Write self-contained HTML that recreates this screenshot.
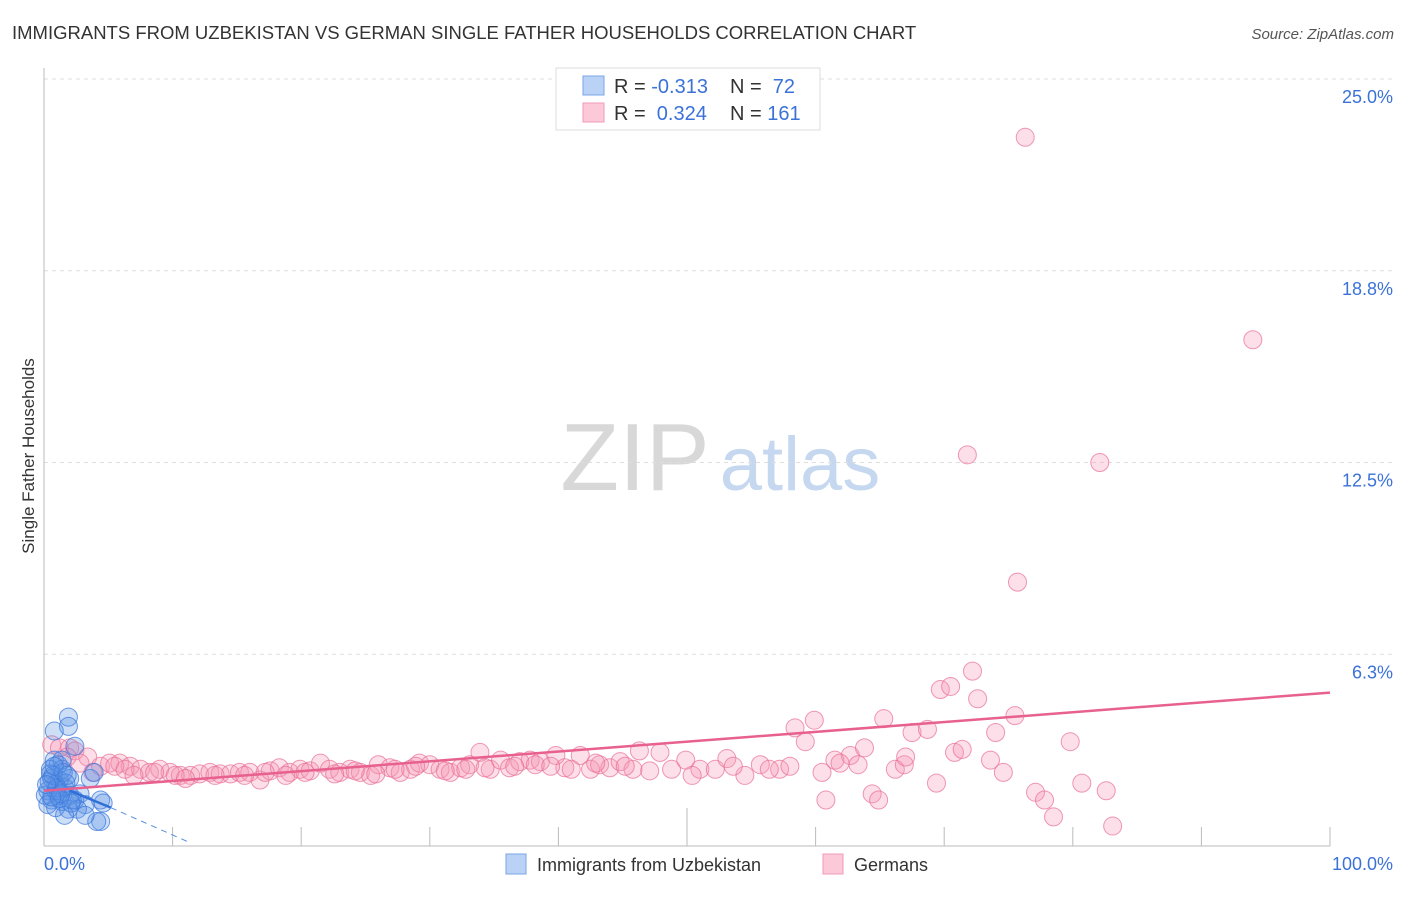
<!DOCTYPE html>
<html><head><meta charset="utf-8"><style>
body{margin:0;background:#fff;font-family:"Liberation Sans",sans-serif;}
svg text{font-family:"Liberation Sans",sans-serif;}
</style></head><body>
<svg id="chart" width="1406" height="892" xmlns="http://www.w3.org/2000/svg">
<text x="12" y="39" font-size="18.5" fill="#333">IMMIGRANTS FROM UZBEKISTAN VS GERMAN SINGLE FATHER HOUSEHOLDS CORRELATION CHART</text>
<text x="1394" y="39" font-size="15" fill="#555" text-anchor="end" font-style="italic">Source: ZipAtlas.com</text>
<g>
<text x="635" y="490" font-size="96" fill="#d8d8d8" font-family="Liberation Serif" text-anchor="middle">ZIP</text>
<text x="800" y="490" font-size="76" fill="#c5d8f0" text-anchor="middle">atlas</text>
</g>
<g id="grid"></g>
<g id="axes"></g>
<g id="pts"></g>
<g id="trends"></g>
<text transform="translate(34,456) rotate(-90)" font-size="17" fill="#333" text-anchor="middle">Single Father Households</text>
<g>
<rect x="556" y="68" width="264" height="62" fill="#fff" stroke="#ddd"/>
<rect x="583" y="76" width="21" height="19" fill="#b9d2f5" stroke="#7aa5e6"/>
<rect x="583" y="103" width="21" height="19" fill="#fcc9d8" stroke="#f09ab5"/>
<text x="614" y="93" font-size="20" fill="#333">R = <tspan fill="#3b72d8">-0.313</tspan></text>
<text x="730" y="93" font-size="20" fill="#333">N = <tspan fill="#3b72d8">&#160;72</tspan></text>
<text x="614" y="120" font-size="20" fill="#333">R = <tspan fill="#3b72d8">&#160;0.324</tspan></text>
<text x="730" y="120" font-size="20" fill="#333">N = <tspan fill="#3b72d8">161</tspan></text>
</g>
<g>
<rect x="506" y="854" width="20" height="20" fill="#b9d2f5" stroke="#7aa5e6"/>
<text x="537" y="871" font-size="18" fill="#333">Immigrants from Uzbekistan</text>
<rect x="823" y="854" width="20" height="20" fill="#fcc9d8" stroke="#f09ab5"/>
<text x="854" y="871" font-size="18" fill="#333">Germans</text>
</g>
</svg>
<script>
const yTicks=[6.25,12.5,18.75,25];
const yTickLabels=["6.3%","12.5%","18.8%","25.0%"];
const xTickVals=[10,20,30,40,50,60,70,80,90,100];
const blueX=[1.9,1.9,0.8,2.4,0.8,1.1,0.5,1.4,0.6,1.2,2.0,0.9,1.6,0.3,1.1,2.0,2.8,0.6,1.4,2.4,3.2,0.9,1.9,2.6,3.6,3.9,4.4,4.6,4.4,4.1,3.2,1.6,0.5,0.9,1.4,0.1,0.3,2.2,1.2,1.7,0.4,0.7,1.0,1.3,1.5,0.2,0.6,0.8,1.8,2.1];
const blueY=[4.2,3.9,3.75,3.25,2.8,2.65,2.5,2.5,2.2,2.15,2.2,2.0,1.9,1.8,1.65,1.65,1.7,1.5,1.45,1.5,1.35,1.25,1.2,1.2,2.2,2.4,1.5,1.4,0.8,0.8,1.0,1.0,2.35,1.8,2.8,1.65,1.35,1.5,1.55,2.05,2.1,2.3,1.9,1.7,2.4,2.0,1.6,2.6,2.3,1.4];
const pinkX=[0.6,1.2,2.0,2.4,3.4,4.4,5.1,5.9,6.7,7.5,8.2,9.0,9.8,10.6,11.4,12.1,12.9,13.7,14.5,15.2,16.0,16.8,17.6,18.3,19.1,19.9,20.7,21.5,22.2,23.0,23.8,24.6,25.4,26.0,26.9,27.7,28.5,29.2,30.0,30.8,31.6,32.4,33.1,33.9,34.7,35.5,36.2,37.0,37.8,38.6,39.8,40.5,41.7,42.5,43.2,44.0,44.8,45.8,46.3,47.9,48.8,49.9,51.0,52.2,53.1,54.5,55.7,57.2,58.4,59.2,59.9,60.5,60.8,61.5,62.7,63.3,63.8,64.4,64.9,65.3,66.2,66.9,67.5,68.7,69.4,69.7,70.5,70.8,71.4,71.8,72.2,72.6,73.6,74.0,74.6,75.5,75.7,76.3,77.1,77.8,78.5,79.8,80.7,82.1,82.6,83.1,94.0,1.8,2.8,3.8,5.5,6.3,7.0,8.6,10.2,11.0,13.3,15.6,17.2,18.8,20.3,22.6,24.2,25.8,27.3,28.9,31.2,32.8,34.3,36.6,38.2,39.4,41.0,42.9,45.2,47.1,50.4,53.6,56.4,58.0,61.9,67.0];
const pinkY=[3.3,3.2,3.2,3.1,2.9,2.6,2.7,2.7,2.6,2.5,2.4,2.5,2.4,2.3,2.3,2.35,2.4,2.35,2.35,2.4,2.4,2.15,2.45,2.55,2.4,2.5,2.45,2.7,2.5,2.4,2.5,2.4,2.3,2.65,2.55,2.4,2.5,2.7,2.65,2.5,2.4,2.55,2.65,3.05,2.5,2.8,2.55,2.75,2.8,2.75,2.95,2.55,2.95,2.5,2.65,2.55,2.75,2.5,3.1,3.05,2.5,2.8,2.5,2.5,2.85,2.3,2.65,2.5,3.85,3.4,4.1,2.4,1.5,2.8,2.95,2.65,3.2,1.7,1.5,4.15,2.5,2.65,3.7,3.8,2.05,5.1,5.2,3.05,3.15,12.75,5.7,4.8,2.8,3.7,2.4,4.25,8.6,23.1,1.75,1.5,0.95,3.4,2.05,12.5,1.8,0.65,16.5,2.9,2.7,2.4,2.6,2.5,2.3,2.4,2.3,2.2,2.3,2.3,2.4,2.3,2.4,2.35,2.45,2.35,2.5,2.6,2.45,2.5,2.55,2.6,2.65,2.6,2.5,2.7,2.6,2.45,2.3,2.6,2.5,2.6,2.7,2.9];
const pinkTrend=[[0,1.8],[100,5.0]];
const blueTrendSolid=[[2,1.8],[5.2,1.25]];
const blueTrendDash=[[5.2,1.25],[11.4,0.1]];
const X0=44,X1=1330,Y0=846,Y25=79;
const sx=v=>X0+(X1-X0)*v/100;
const sy=v=>Y0-(Y0-Y25)*v/25;
const NS="http://www.w3.org/2000/svg";
function mk(parent,tag,attrs){const e=document.createElementNS(NS,tag);for(const k in attrs)e.setAttribute(k,attrs[k]);document.getElementById(parent).appendChild(e);return e;}
yTicks.forEach((v,i)=>{
 const l=mk('grid','line',{x1:X0,x2:1393,y1:sy(v),y2:sy(v),stroke:'#ddd','stroke-dasharray':'4,4'});
 
 
 const t=mk('grid','text',{x:1393,y:sy(v)+24,'font-size':18,fill:'#3b72d8','text-anchor':'end'});
 t.textContent=yTickLabels[i];
 
 
});
const ya=mk('axes','line',{x1:X0,x2:X0,y1:68,y2:Y0,stroke:'#bbb'});


const xa=mk('axes','line',{x1:X0,x2:X1,y1:Y0,y2:Y0,stroke:'#bbb'});


xTickVals.forEach(v=>{
 const t=mk('axes','line',{x1:sx(v),x2:sx(v),y1:v==50?808:827,y2:Y0,stroke:'#bbb'});
 
 
});
const xl0=mk('axes','text',{x:44,y:870,'font-size':18,fill:'#3b72d8'});xl0.textContent='0.0%';


const xl1=mk('axes','text',{x:1393,y:870,'font-size':18,fill:'#3b72d8','text-anchor':'end'});xl1.textContent='100.0%';


pinkX.forEach((v,i)=>{
 const c=mk('pts','circle',{cx:sx(v),cy:sy(pinkY[i]),r:9,fill:'rgba(244,150,180,0.3)',stroke:'rgba(232,110,150,0.7)','stroke-width':1});
 
 
});
blueX.forEach((v,i)=>{
 const c=mk('pts','circle',{cx:sx(v),cy:sy(blueY[i]),r:9,fill:'rgba(90,145,230,0.3)',stroke:'rgba(60,120,220,0.75)','stroke-width':1});
 
 
});
const pt=mk('trends','line',{x1:sx(pinkTrend[0][0]),y1:sy(pinkTrend[0][1]),x2:sx(pinkTrend[1][0]),y2:sy(pinkTrend[1][1]),stroke:'#e8608e','stroke-width':2.5});


const bt=mk('trends','line',{x1:sx(blueTrendSolid[0][0]),y1:sy(blueTrendSolid[0][1]),x2:sx(blueTrendSolid[1][0]),y2:sy(blueTrendSolid[1][1]),stroke:'#2f6fd6','stroke-width':2.5});


const bd=mk('trends','line',{x1:sx(blueTrendDash[0][0]),y1:sy(blueTrendDash[0][1]),x2:sx(blueTrendDash[1][0]),y2:sy(blueTrendDash[1][1]),stroke:'#5a8fe0','stroke-width':1,'stroke-dasharray':'6,5'});


</script>
</body></html>
